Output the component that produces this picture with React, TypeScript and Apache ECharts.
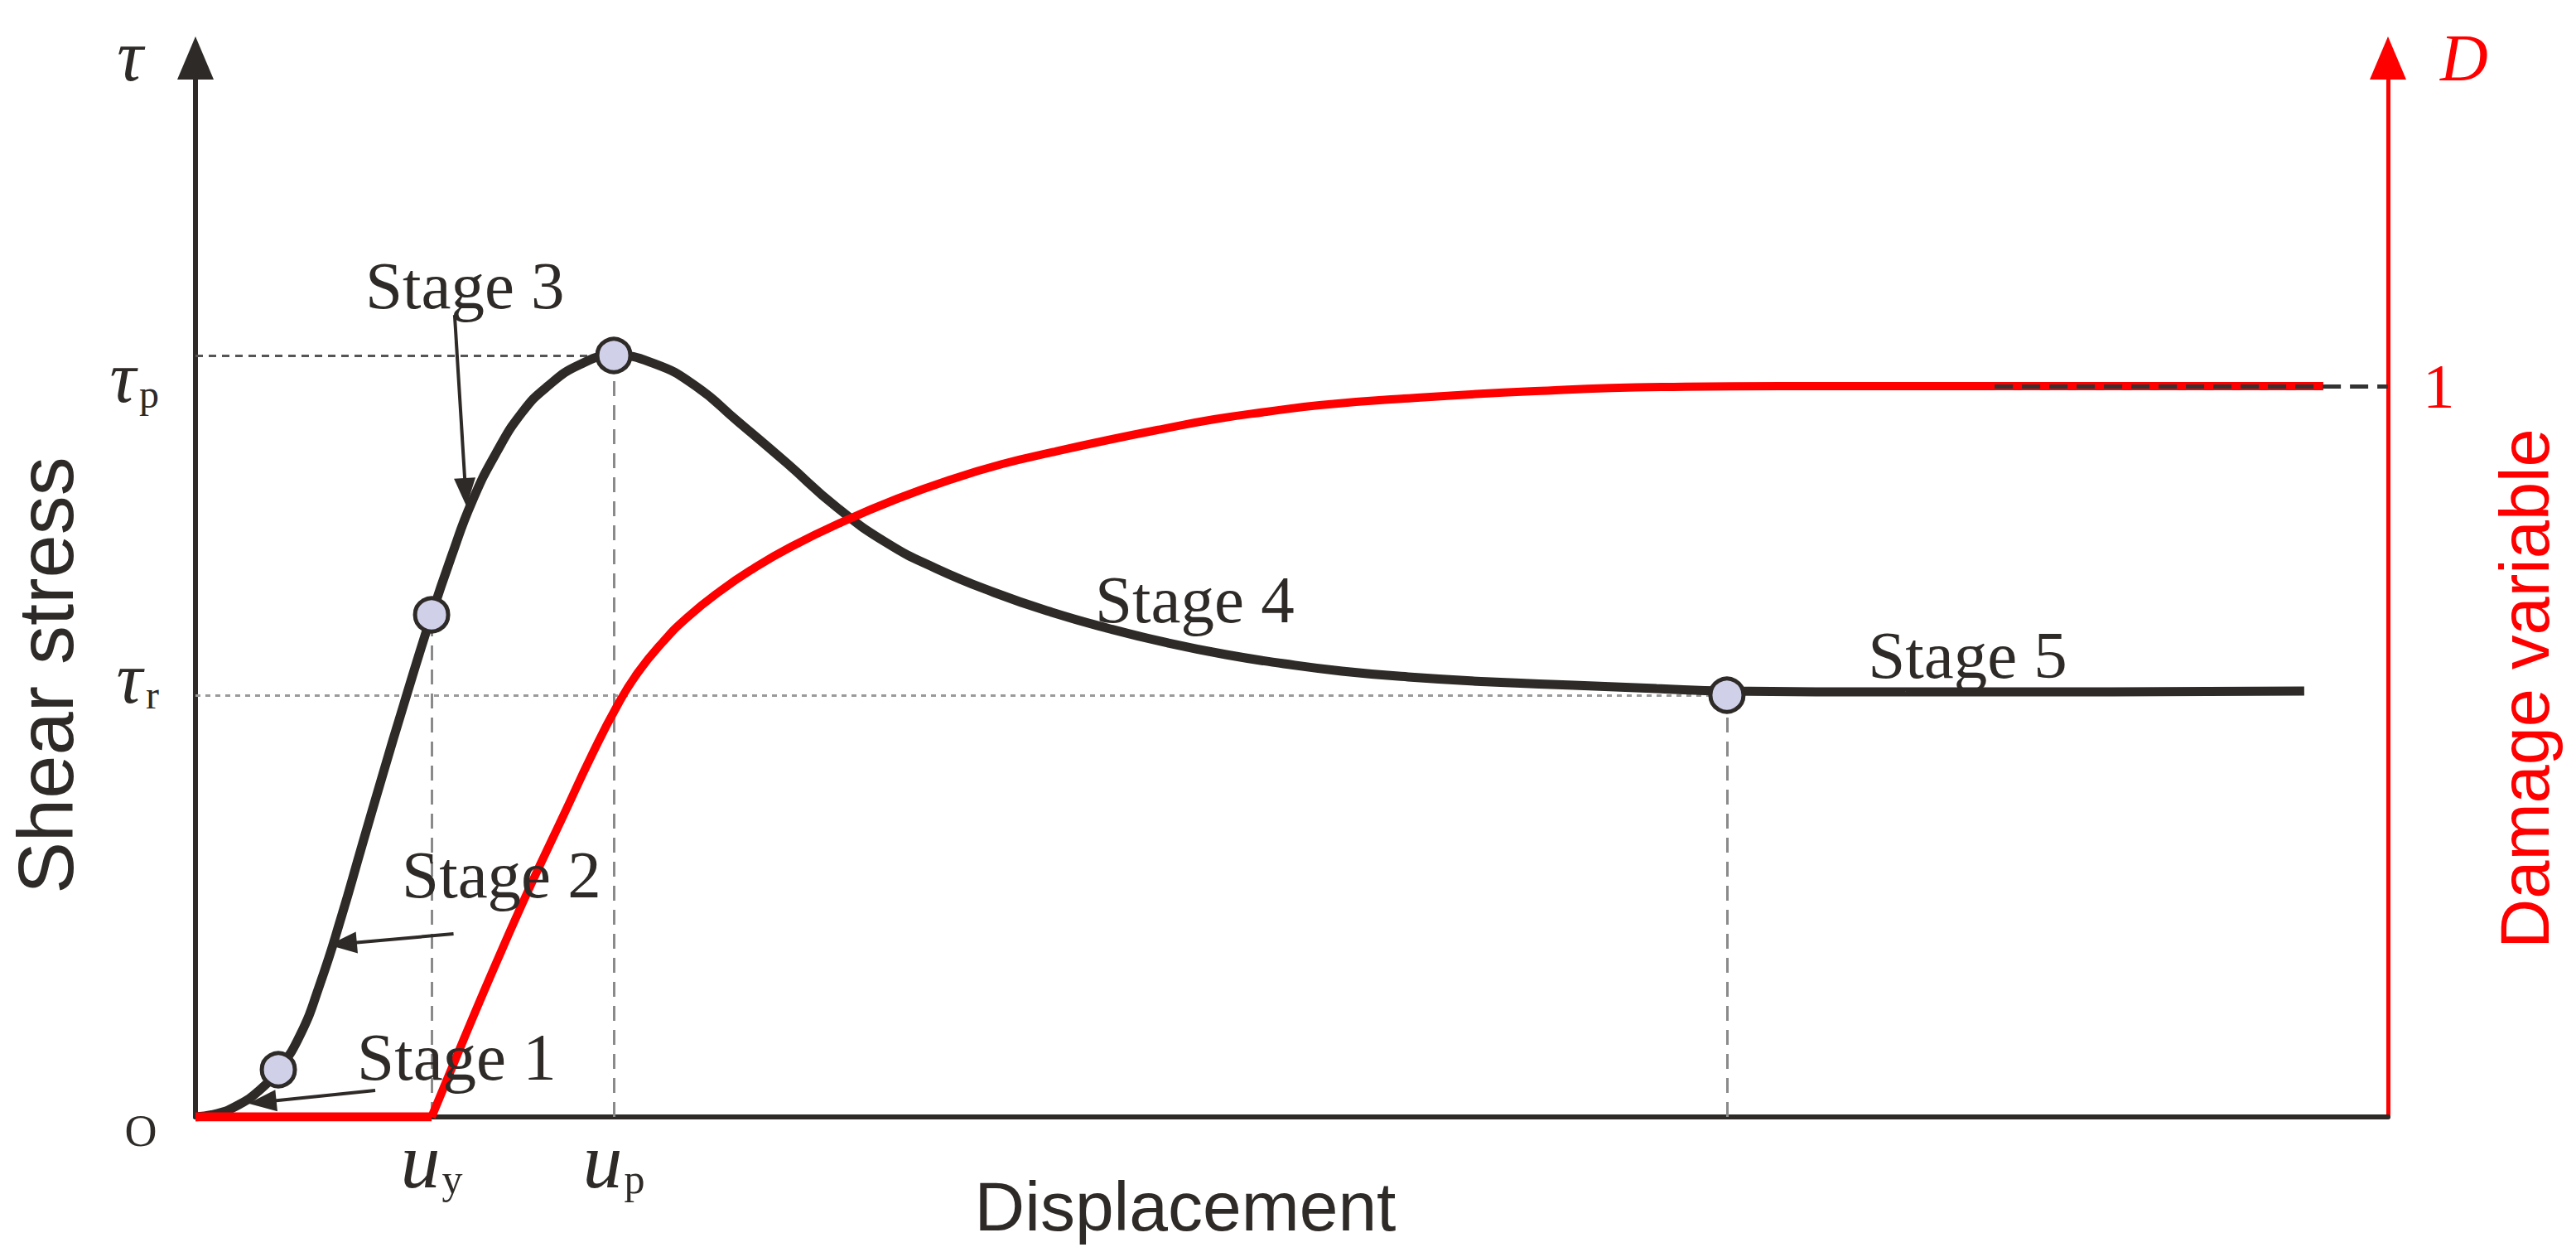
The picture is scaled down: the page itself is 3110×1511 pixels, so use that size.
import { useEffect, useRef } from 'react';
import * as echarts from 'echarts';

const SERIF = '"Liberation Serif", "Times New Roman", serif';
const SANS = '"Liberation Sans", Arial, sans-serif';
const INK = '#2e2a27';
const RED = '#ff0000';

// displacement positions on the x axis (0 = origin, 100 = damage axis)
const uY = 10.77;
const uP = 19.08;
const uR = 69.85;

// shear stress levels on the left axis (0..100)
const tauP = 71.91;
const tauR = 39.83;

// damage axis top (D = 1 sits at about 69% of the axis height)
const dMax = 1.449;
const dDashStart = 82.06;

// shear stress curve
const shearDisp = [
  0, 0.98, 1.93, 2.87, 3.78, 4.76, 5.7, 6.65, 7.59, 8.54, 9.48, 10.77, 11.67, 12.62, 13.75, 14.89,
  16.02, 17.53, 19.08, 20.93, 22.82, 24.71, 26.97, 29.24, 31.51, 33.77, 36.42, 39.06, 41.71, 44.35,
  47.0, 49.64, 52.29, 55.31, 59.09, 62.86, 66.64, 69.85, 77.98, 87.42, 96.18,
];
const shearStress = [
  0, 0.31, 1.1, 2.43, 4.46, 7.67, 12.68, 18.86, 25.59, 32.32, 38.81, 47.42, 52.9, 58.14, 62.83, 66.51,
  68.93, 71.05, 71.91, 71.13, 69.01, 65.73, 61.74, 57.59, 54.23, 51.8, 49.53, 47.65, 46.09, 44.76,
  43.66, 42.8, 42.1, 41.55, 41.08, 40.77, 40.45, 40.22, 40.14, 40.14, 40.22,
];

// damage variable: flat part, then the rising part
const damageFlatDisp = [0, uY];
const damageFlat = [0, 0];
const damageRiseDisp = [
  uY, 12.24, 13.75, 15.26, 16.77, 18.1, 19.23, 20.17, 21.31, 22.44, 23.95, 25.46, 27.16, 29.58, 32.0,
  34.42, 36.8, 39.21, 41.63, 44.05, 46.47, 48.85, 51.27, 55.12, 61.09, 66.87, 72.31, 97.05,
];
const damageRise = [
  0, 0.1066, 0.2132, 0.3152, 0.4116, 0.4966, 0.5624, 0.6077, 0.6497, 0.6837, 0.72, 0.7506, 0.78,
  0.8152, 0.8458, 0.8719, 0.8934, 0.9104, 0.9263, 0.941, 0.9546, 0.9649, 0.9739, 0.983, 0.9932,
  0.9989, 1, 1,
];

// stage boundary points on the shear curve
const keyDisp = [3.78, uY, uP, uR];
const keyStress = [4.46, 47.42, tauP, tauR];

// stage annotations
const stageNames = ['Stage 1', 'Stage 2', 'Stage 3', 'Stage 4', 'Stage 5'];
const stageLabelDisp = [7.37, 9.41, 7.74, 41.03, 76.28];
const stageLabelStress = [5.63, 22.85, 78.5, 48.83, 43.58];
const arrowFrom = [
  [8.2, 2.5],
  [11.77, 17.29],
  [11.82, 75.74],
];
const arrowTo = [
  [3.05, 1.41],
  [6.72, 16.35],
  [12.32, 59.0],
];

const near = (a: number, b: number) => Math.abs(a - b) < 0.01;

const App = () => {
  const chartRef = useRef<HTMLDivElement>(null);

  useEffect(() => {
    if (!chartRef.current) return;
    const chart = echarts.init(chartRef.current, undefined, { renderer: 'svg' });

    const vDash = { color: '#8a8a8a', type: [18, 11], width: 3 };

    const option: any = {
      animation: false,
      backgroundColor: '#ffffff',
      textStyle: { fontFamily: SERIF },
      grid: { left: 236, right: 227, top: 70, bottom: 163 },
      xAxis: {
        type: 'value',
        min: 0,
        max: 100,
        axisLine: { onZero: false, lineStyle: { color: INK, width: 6 } },
        axisTick: { show: false },
        splitLine: { show: false },
        axisLabel: {
          customValues: [uY, uP],
          margin: 4,
          formatter: (v: number) => (near(v, uY) ? '{u|u}{s|y}' : '{u|u}{s|p}'),
          rich: {
            u: { fontFamily: SERIF, fontStyle: 'italic', fontSize: 96, color: INK, verticalAlign: 'bottom' },
            s: { fontFamily: SERIF, fontSize: 50, color: INK, verticalAlign: 'bottom', padding: [0, 0, 0, 2] },
          },
        },
      },
      yAxis: [
        {
          type: 'value',
          position: 'left',
          min: 0,
          max: 100,
          axisLine: {
            show: true,
            onZero: false,
            symbol: ['none', 'triangle'],
            symbolSize: [44, 52],
            lineStyle: { color: INK, width: 6 },
          },
          axisTick: { show: false },
          splitLine: { show: false },
          axisLabel: {
            customValues: [tauR, tauP],
            margin: 44,
            formatter: (v: number) => (near(v, tauP) ? '{tp|τ}{sp|p}' : '{tr|τ}{sr|r}'),
            rich: {
              tp: { fontFamily: SERIF, fontStyle: 'italic', fontSize: 88, color: INK, verticalAlign: 'bottom', padding: [54, 0, 0, 0] },
              sp: { fontFamily: SERIF, fontSize: 48, color: INK, verticalAlign: 'bottom', padding: [54, 0, 0, 4] },
              tr: { fontFamily: SERIF, fontStyle: 'italic', fontSize: 88, color: INK, verticalAlign: 'bottom', padding: [0, 0, 40, 0] },
              sr: { fontFamily: SERIF, fontSize: 48, color: INK, verticalAlign: 'bottom', padding: [0, 0, 40, 4] },
            },
          },
        },
        {
          type: 'value',
          position: 'right',
          min: 0,
          max: dMax,
          axisLine: {
            show: true,
            onZero: false,
            symbol: ['none', 'triangle'],
            symbolSize: [44, 52],
            lineStyle: { color: RED, width: 5 },
          },
          axisTick: { show: false },
          splitLine: { show: false },
          axisLabel: {
            customValues: [1],
            margin: 42,
            formatter: () => '1',
            fontFamily: SERIF,
            fontSize: 77,
            color: RED,
            padding: [16, 0, 0, 0],
          },
        },
      ],
      graphic: [
        {
          type: 'text',
          x: 157,
          y: 67,
          style: { text: 'τ', fontFamily: SERIF, fontStyle: 'italic', fontSize: 88, fill: INK, align: 'center', verticalAlign: 'middle' },
        },
        {
          type: 'text',
          x: 170,
          y: 1365,
          style: { text: 'O', fontFamily: SERIF, fontSize: 54, fill: INK, align: 'center', verticalAlign: 'middle' },
        },
        {
          type: 'text',
          x: 55,
          y: 815,
          rotation: Math.PI / 2,
          style: { text: 'Shear stress', fontFamily: SANS, fontSize: 94, fill: INK, align: 'center', verticalAlign: 'middle' },
        },
        {
          type: 'text',
          x: 1431,
          y: 1456,
          style: { text: 'Displacement', fontFamily: SANS, fontSize: 84, fill: INK, align: 'center', verticalAlign: 'middle' },
        },
        {
          type: 'text',
          x: 2975,
          y: 70,
          style: { text: 'D', fontFamily: SERIF, fontStyle: 'italic', fontSize: 80, fill: RED, align: 'center', verticalAlign: 'middle' },
        },
        {
          type: 'text',
          x: 3048,
          y: 831,
          rotation: Math.PI / 2,
          style: { text: 'Damage variable', fontFamily: SANS, fontSize: 83, fill: RED, align: 'center', verticalAlign: 'middle' },
        },
      ],
      series: [
        {
          name: 'Shear stress',
          type: 'line',
          xAxisIndex: 0,
          yAxisIndex: 0,
          smooth: 0.5,
          showSymbol: false,
          silent: true,
          data: shearDisp.map((x, i) => [x, shearStress[i]]),
          lineStyle: { color: INK, width: 11 },
          markLine: {
            z: 1,
            silent: true,
            symbol: ['none', 'none'],
            label: { show: false },
            data: [
              [{ coord: [0, tauP], lineStyle: { color: '#555555', type: [9, 7], width: 3 } }, { coord: [uP, tauP] }],
              [{ coord: [0, tauR], lineStyle: { color: '#9a9a9a', type: [6, 6], width: 3 } }, { coord: [uR, tauR] }],
              [{ coord: [uY, 0], lineStyle: vDash }, { coord: [uY, keyStress[1]] }],
              [{ coord: [uP, 0], lineStyle: vDash }, { coord: [uP, tauP] }],
              [{ coord: [uR, 0], lineStyle: vDash }, { coord: [uR, tauR] }],
            ],
          },
        },
        {
          name: 'Damage flat',
          type: 'line',
          xAxisIndex: 0,
          yAxisIndex: 1,
          showSymbol: false,
          silent: true,
          data: damageFlatDisp.map((x, i) => [x, damageFlat[i]]),
          lineStyle: { color: RED, width: 11 },
        },
        {
          name: 'Damage variable',
          type: 'line',
          xAxisIndex: 0,
          yAxisIndex: 1,
          smooth: 0.5,
          showSymbol: false,
          silent: true,
          data: damageRiseDisp.map((x, i) => [x, damageRise[i]]),
          lineStyle: { color: RED, width: 10 },
          markLine: {
            silent: true,
            symbol: ['none', 'none'],
            label: { show: false },
            lineStyle: { color: '#333333', type: [22, 11], width: 5 },
            data: [[{ coord: [dDashStart, 1] }, { coord: [100, 1] }]],
          },
        },
        {
          name: 'Key points',
          type: 'scatter',
          xAxisIndex: 0,
          yAxisIndex: 0,
          silent: true,
          symbol: 'circle',
          symbolSize: 40,
          z: 4,
          data: keyDisp.map((x, i) => [x, keyStress[i]]),
          itemStyle: { color: '#d0d0e8', borderColor: INK, borderWidth: 5, opacity: 1 },
        },
        {
          name: 'Stages',
          type: 'scatter',
          xAxisIndex: 0,
          yAxisIndex: 0,
          silent: true,
          symbolSize: 2,
          z: 5,
          data: stageNames.map((n, i) => ({ name: n, value: [stageLabelDisp[i], stageLabelStress[i]] })),
          itemStyle: { color: 'rgba(0,0,0,0)' },
          label: {
            show: true,
            formatter: '{b}',
            position: 'inside',
            align: 'left',
            verticalAlign: 'middle',
            fontFamily: SERIF,
            fontSize: 81,
            color: INK,
            opacity: 1,
          },
          markLine: {
            silent: true,
            symbol: ['none', 'triangle'],
            symbolSize: [26, 34],
            label: { show: false },
            lineStyle: { type: 'solid', color: INK, width: 4 },
            data: arrowFrom.map((f, i) => [{ coord: f }, { coord: arrowTo[i] }]),
          },
        },
      ],
    };

    chart.setOption(option);

    return () => {
      chart.dispose();
    };
  }, []);

  return (
    <div
      ref={chartRef}
      style={{ position: 'absolute', left: 0, top: 0, width: 3110, height: 1511, background: '#fff' }}
    />
  );
};

export default App;
